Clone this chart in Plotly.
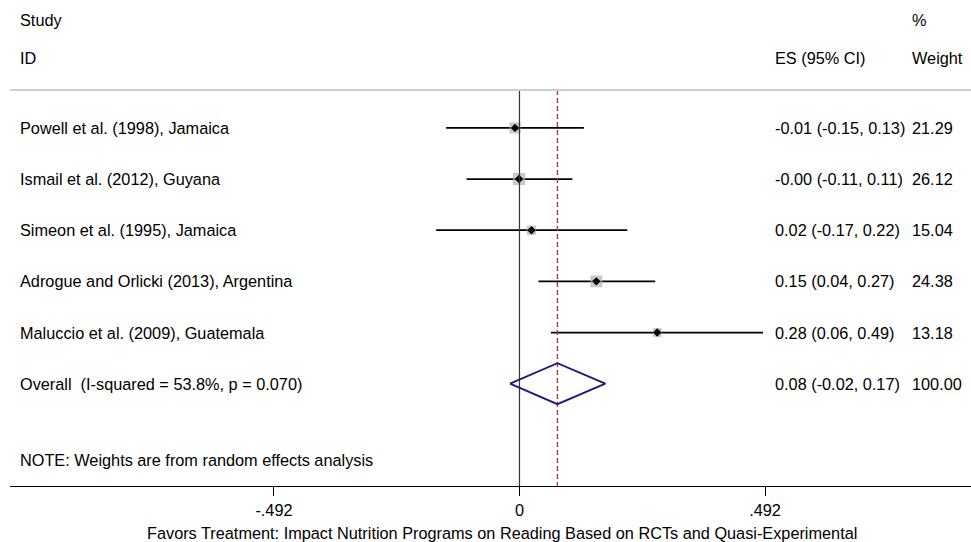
import math
import plotly.graph_objects as go

# ---- data ----
studies = ["Powell et al. (1998), Jamaica",
           "Ismail et al. (2012), Guyana",
           "Simeon et al. (1995), Jamaica",
           "Adrogue and Orlicki (2013), Argentina",
           "Maluccio et al. (2009), Guatemala"]
es = [-0.009, -0.001, 0.024, 0.154, 0.276]
ci_lo = [-0.147, -0.106, -0.167, 0.038, 0.063]
ci_hi = [0.129, 0.106, 0.216, 0.272, 0.488]
weights = [21.29, 26.12, 15.04, 24.38, 13.18]

overall_label = "Overall\u00a0\u00a0(I-squared = 53.8%, p = 0.070)"
overall_es = 0.076
overall_lo = -0.019
overall_hi = 0.172
overall_weight = 100.00

tick_vals = [-0.492, 0, 0.492]
tick_text = ["-.492", "0", ".492"]
x_title = "Favors Treatment: Impact Nutrition Programs on Reading Based on RCTs and Quasi-Experimental"
note = "NOTE: Weights are from random effects analysis"

# ---- layout helpers (pixel geometry) ----
W, H = 971, 542
ML, MR, MT, MB = 10, 0, 0, 56
PW = W - ML - MR
PH = H - MT - MB
FONT = "Liberation Sans, Arial, sans-serif"
FS = 16.3


def px(x):
    return (x - ML) / PW


rows = list(range(len(studies)))
overall_row = len(studies)
note_row = overall_row + 1.5
sep_row = -0.74
hdr1_row = -2.11
hdr2_row = -1.37

fig = go.Figure()

# CI lines
xs, ys = [], []
for i, lo, hi in zip(rows, ci_lo, ci_hi):
    xs += [lo, hi, None]
    ys += [i, i, None]
fig.add_trace(go.Scatter(x=xs, y=ys, mode="lines",
                         line=dict(color="black", width=1.7)))

# weight squares
fig.add_trace(go.Scatter(x=es, y=rows, mode="markers",
                         marker=dict(symbol="square", color="#b0b0b0",
                                     size=[2.4 * math.sqrt(w) for w in weights],
                                     line=dict(width=0))))
# point estimates
fig.add_trace(go.Scatter(x=es, y=rows, mode="markers",
                         marker=dict(symbol="diamond", color="black", size=6.5,
                                     line=dict(width=0))))

# zero line
fig.add_trace(go.Scatter(x=[0, 0], y=[sep_row, 7], mode="lines",
                         line=dict(color="#333333", width=1.2)))
# overall dashed line
fig.add_trace(go.Scatter(x=[overall_es, overall_es], y=[sep_row, 7], mode="lines",
                         line=dict(color="#b03848", width=1.4, dash="5px,3px")))

# overall diamond
h = 0.4
fig.add_trace(go.Scatter(
    x=[overall_lo, overall_es, overall_hi, overall_es, overall_lo],
    y=[overall_row, overall_row - h, overall_row, overall_row + h, overall_row],
    mode="lines", line=dict(color="#1a1a80", width=1.9)))

# separator
fig.add_shape(type="line", xref="paper", yref="y", x0=0, x1=1,
              y0=sep_row, y1=sep_row, line=dict(color="#cfcfcf", width=2))

ann = []


def text(x, y, t, xref="paper", yref="y", anchor="left"):
    ann.append(dict(x=x, y=y, xref=xref, yref=yref, text=t, showarrow=False,
                    xanchor=anchor, yanchor="middle", borderpad=0,
                    font=dict(family=FONT, size=FS, color="black")))


text(px(19), hdr1_row, "Study")
text(px(19), hdr2_row, "ID")
text(px(774), hdr2_row, "ES (95% CI)")
text(px(911), hdr1_row, "%")
text(px(911), hdr2_row, "Weight")

for i, s, e, lo, hi, w in zip(rows, studies, es, ci_lo, ci_hi, weights):
    text(px(19), i, s)
    text(px(774), i, f"{e:.2f} ({lo:.2f}, {hi:.2f})")
    text(px(911), i, f"{w:.2f}")

text(px(19), overall_row, overall_label)
text(px(774), overall_row, f"{overall_es:.2f} ({overall_lo:.2f}, {overall_hi:.2f})")
text(px(911), overall_row, f"{overall_weight:.2f}")
text(px(19), note_row, note)

text(px(502), (PH - 533 + MT) / PH, x_title, yref="paper", anchor="center")

x_left = -1.021
x_right = 0.9048

fig.update_layout(
    width=W, height=H,
    margin=dict(l=ML, r=MR, t=MT, b=MB, pad=0),
    paper_bgcolor="white", plot_bgcolor="white",
    showlegend=False, hovermode=False,
    annotations=ann,
    xaxis=dict(range=[x_left, x_right], showgrid=False, zeroline=False,
               showline=True, linecolor="black", linewidth=1.4,
               ticks="outside", ticklen=9, tickwidth=1.4, tickcolor="black",
               tickvals=tick_vals, ticktext=tick_text,
               tickfont=dict(family=FONT, size=FS, color="black")),
    yaxis=dict(range=[7, -2.5], visible=False, showgrid=False, zeroline=False),
)

fig.write_html("out.html", config={"displayModeBar": False})
